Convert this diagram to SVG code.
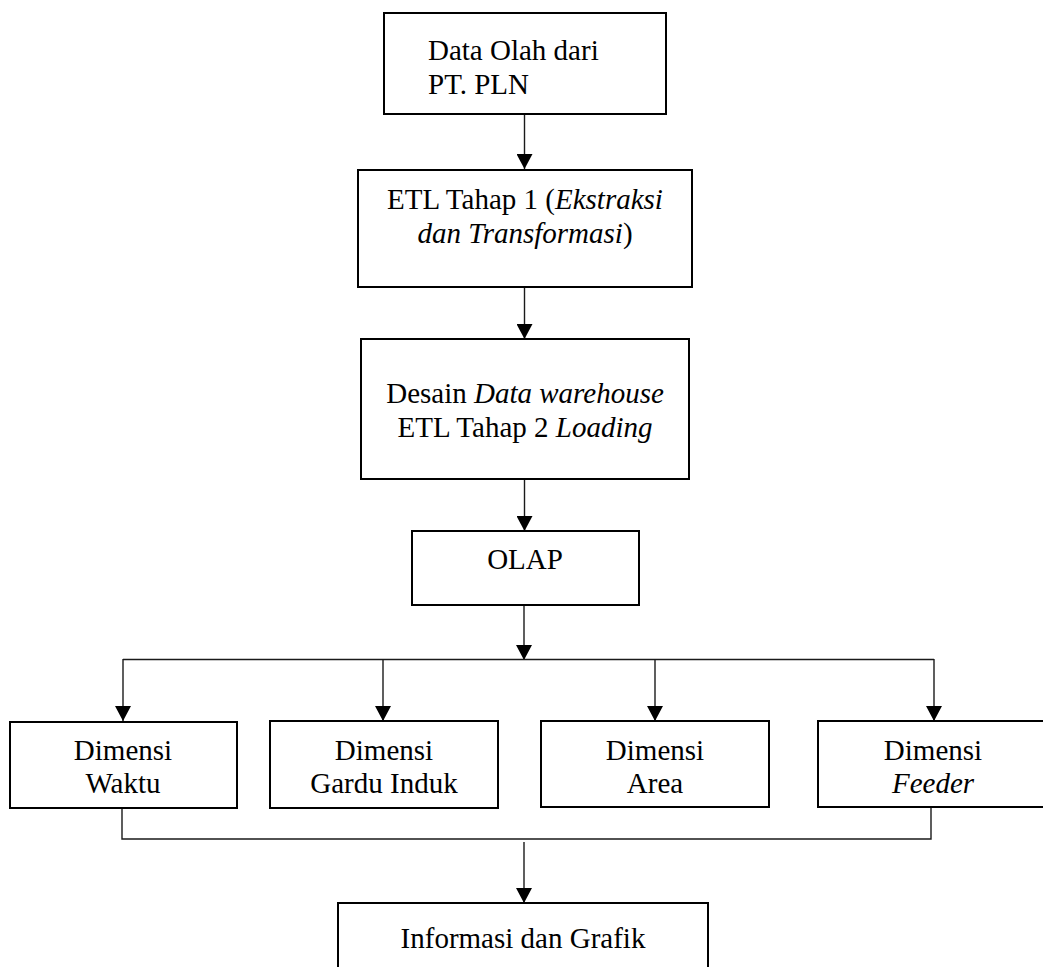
<svg xmlns="http://www.w3.org/2000/svg" width="1043" height="967" viewBox="0 0 1043 967">
  <style>
    .box { fill: #ffffff; stroke: #000000; stroke-width: 2; }
    .lbl { font-family: "Liberation Serif", "Times New Roman", serif; font-size: 29px; fill: #000000; }
    .mid { text-anchor: middle; }
    .it { font-style: italic; }
    .wire { fill: none; stroke: #1a1a1a; stroke-width: 1.4; }
  </style>
  <defs>
    <marker id="arrow" viewBox="0 0 16 16" refX="15" refY="8" markerWidth="16" markerHeight="16" markerUnits="userSpaceOnUse" orient="auto">
      <path d="M0,0 L15,8 L0,16 z" fill="#000000"/>
    </marker>
  </defs>

  <rect width="1043" height="967" fill="#ffffff"/>

  <!-- connectors -->
  <g id="connectors">
    <path class="wire" d="M524.5,114 V169" marker-end="url(#arrow)"/>
    <path class="wire" d="M524.5,287 V339" marker-end="url(#arrow)"/>
    <path class="wire" d="M524.5,479 V531" marker-end="url(#arrow)"/>
    <path class="wire" d="M524,605 V660" marker-end="url(#arrow)"/>
    <path class="wire" d="M123,659.5 H934"/>
    <path class="wire" d="M123,659 V721" marker-end="url(#arrow)"/>
    <path class="wire" d="M383,659 V721" marker-end="url(#arrow)"/>
    <path class="wire" d="M655,659 V721" marker-end="url(#arrow)"/>
    <path class="wire" d="M934,659 V721" marker-end="url(#arrow)"/>
    <path class="wire" d="M122,808 V839 H931 V807"/>
    <path class="wire" d="M524,842 V903" marker-end="url(#arrow)"/>
  </g>

  <g id="source">
    <rect class="box" x="384" y="13" width="282" height="101"/>
    <text class="lbl" x="428" y="60">Data Olah dari</text>
    <text class="lbl" x="428" y="94">PT. PLN</text>
  </g>

  <g id="etl1">
    <rect class="box" x="358" y="170" width="334" height="117"/>
    <text class="lbl mid" x="525" y="209">ETL Tahap 1 (<tspan class="it">Ekstraksi</tspan></text>
    <text class="lbl mid" x="525" y="243"><tspan class="it">dan Transformasi</tspan>)</text>
  </g>

  <g id="dwh">
    <rect class="box" x="361" y="339" width="328" height="140"/>
    <text class="lbl mid" x="525" y="403">Desain <tspan class="it">Data warehouse</tspan></text>
    <text class="lbl mid" x="525" y="437">ETL Tahap 2 <tspan class="it">Loading</tspan></text>
  </g>

  <g id="olap">
    <rect class="box" x="412" y="531" width="227" height="74"/>
    <text class="lbl mid" x="525" y="569">OLAP</text>
  </g>

  <g id="dim-waktu">
    <rect class="box" x="10" y="722" width="227" height="86"/>
    <text class="lbl mid" x="123" y="760">Dimensi</text>
    <text class="lbl mid" x="123" y="793">Waktu</text>
  </g>

  <g id="dim-gardu">
    <rect class="box" x="270" y="721" width="228" height="87"/>
    <text class="lbl mid" x="384" y="760">Dimensi</text>
    <text class="lbl mid" x="384" y="793">Gardu Induk</text>
  </g>

  <g id="dim-area">
    <rect class="box" x="541" y="721" width="228" height="86"/>
    <text class="lbl mid" x="655" y="760">Dimensi</text>
    <text class="lbl mid" x="655" y="793">Area</text>
  </g>

  <g id="dim-feeder">
    <rect class="box" x="818" y="721" width="230" height="86"/>
    <text class="lbl mid" x="933" y="760">Dimensi</text>
    <text class="lbl mid it" x="933" y="793">Feeder</text>
  </g>

  <g id="info">
    <rect class="box" x="338" y="903" width="370" height="80"/>
    <text class="lbl mid" x="523" y="948">Informasi dan Grafik</text>
  </g>
</svg>
